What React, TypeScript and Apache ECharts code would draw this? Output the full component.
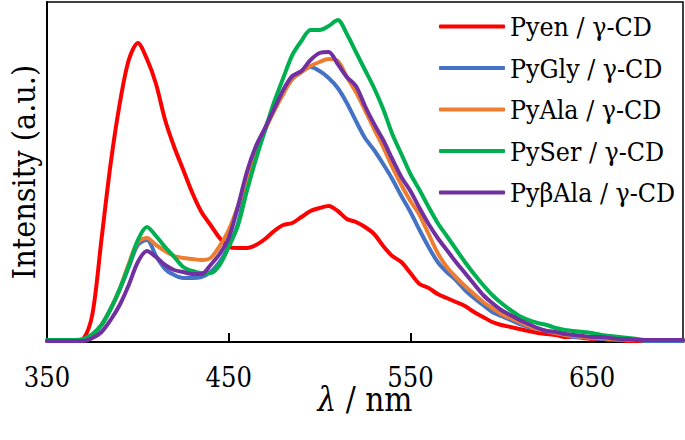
import React, { useEffect, useRef } from "react";
import * as echarts from "echarts";

const wavelengths: number[] = [];
for (let w = 350; w <= 700; w += 5) wavelengths.push(w);

const seriesNames = ["Pyen / γ-CD", "PyGly / γ-CD", "PyAla / γ-CD", "PySer / γ-CD", "PyβAla / γ-CD"];
const seriesColors = ["#FF0000", "#4472C4", "#ED7D31", "#00B050", "#7030A0"];

const pyen = [1, 1, 1, 1, 3, 28, 103, 178, 238, 282, 299, 283, 258, 222, 195, 172, 149, 130, 117, 104, 95, 94, 94, 97, 103, 111, 117, 119, 125, 131, 134, 136, 131, 123, 120, 115, 108, 96, 86, 80, 69, 58, 54, 48, 44, 40, 36, 30, 25, 20, 17, 15, 13, 11, 9, 8, 7, 5, 5, 4, 3, 3, 2, 2, 1, 1, 1, 1, 1, 1, 1];
const pygly = [1, 1, 1, 1, 2, 7, 17, 33, 52, 75, 97, 102, 86, 73, 67, 64, 64, 65, 70, 80, 96, 118, 157, 185, 212, 234, 250, 263, 270, 275, 271, 264, 254, 239, 221, 204, 192, 178, 163, 146, 130, 112, 95, 80, 70, 62, 52, 44, 37, 30, 26, 22, 18, 15, 13, 11, 9, 7, 5, 5, 4, 3, 3, 2, 2, 2, 1, 1, 1, 1, 1];
const pyala = [1, 1, 1, 1, 2, 7, 17, 33, 53, 78, 100, 104, 97, 91, 86, 84, 83, 82, 84, 96, 112, 135, 163, 188, 212, 231, 248, 263, 270, 276, 280, 283, 281, 265, 250, 232, 213, 195, 175, 157, 141, 127, 108, 89, 75, 65, 56, 48, 40, 34, 28, 24, 20, 16, 13, 11, 9, 7, 6, 5, 4, 4, 3, 3, 3, 2, 2, 2, 2, 2, 2];
const pyser = [2, 2, 2, 2, 3, 8, 17, 33, 53, 76, 102, 115, 106, 95, 85, 75, 71, 69, 69, 77, 95, 116, 151, 183, 212, 240, 264, 287, 301, 312, 312, 316, 322, 308, 290, 272, 254, 233, 208, 188, 168, 152, 135, 119, 106, 93, 80, 68, 57, 47, 39, 32, 26, 22, 19, 17, 14, 12, 11, 10, 9, 7, 6, 5, 4, 3, 2, 2, 2, 2, 2];
const pybala = [1, 1, 1, 1, 1, 4, 10, 22, 37, 57, 80, 91, 85, 77, 72, 70, 68, 68, 77, 88, 104, 135, 170, 196, 214, 233, 252, 266, 271, 282, 289, 290, 278, 265, 256, 236, 218, 202, 183, 165, 151, 134, 118, 104, 92, 80, 69, 58, 47, 39, 32, 27, 22, 18, 14, 11, 10, 8, 7, 6, 5, 5, 4, 3, 3, 2, 2, 2, 2, 2, 2];

const xTickLabels = [350, 450, 550, 650];

const allSeries = [pyen, pygly, pyala, pyser, pybala];
const FONT = "DejaVu Serif Condensed, DejaVu Serif";

export default function App() {
  const ref = useRef<HTMLDivElement>(null);
  useEffect(() => {
    if (!ref.current) return;
    const chart = echarts.init(ref.current, null, { renderer: "svg" });
    chart.setOption({
      animation: false,
      backgroundColor: "#fff",
      textStyle: { fontFamily: FONT, color: "#000" },
      grid: {
        left: 38,
        right: 2,
        top: 2,
        bottom: 98,
        show: true,
        borderColor: "#000",
        borderWidth: 1.5,
        containLabel: false,
      },
      legend: {
        orient: "vertical",
        left: 434,
        top: 7,
        icon: "roundRect",
        itemWidth: 66,
        itemHeight: 4,
        itemGap: 12.5,
        data: seriesNames,
        textStyle: { fontFamily: FONT, fontSize: 26.5, color: "#000", lineHeight: 29 },
      },
      xAxis: {
        type: "value",
        min: 350,
        max: 700,
        name: "{i|λ} / nm",
        nameLocation: "middle",
        nameGap: 41,
        nameMoveOverlap: false,
        nameTextStyle: {
          fontFamily: FONT,
          fontSize: 33,
          color: "#000",
          rich: {
            i: { fontStyle: "italic", fontFamily: FONT, fontSize: 33, color: "#000" },
          },
        },
        axisLine: { show: true, lineStyle: { color: "#000", width: 2 } },
        axisTick: { show: true, inside: true, length: 9, lineStyle: { color: "#000", width: 2 }, customValues: xTickLabels },
        axisLabel: { fontFamily: FONT, fontSize: 27, color: "#000", margin: 22, customValues: xTickLabels },
        splitLine: { show: false },
      },
      yAxis: {
        type: "value",
        min: 0,
        max: 340,
        name: "Intensity (a.u.)",
        nameLocation: "middle",
        nameGap: 7,
        nameTextStyle: { fontFamily: FONT, fontSize: 32, color: "#000" },
        axisLine: { show: true, lineStyle: { color: "#000", width: 2 } },
        axisTick: { show: false },
        axisLabel: { show: false },
        splitLine: { show: false },
      },
      series: allSeries.map((vals, i) => ({
        name: seriesNames[i],
        type: "line",
        symbol: "none",
        smooth: 0.3,
        color: seriesColors[i],
        lineStyle: { width: 4, color: seriesColors[i], cap: "round", join: "round" },
        data: wavelengths.map((w, j) => [w, vals[j]]),
      })),
    });
    return () => chart.dispose();
  }, []);
  return <div ref={ref} style={{ position: "fixed", left: 0, top: 0, width: 685, height: 440 }} />;
}
